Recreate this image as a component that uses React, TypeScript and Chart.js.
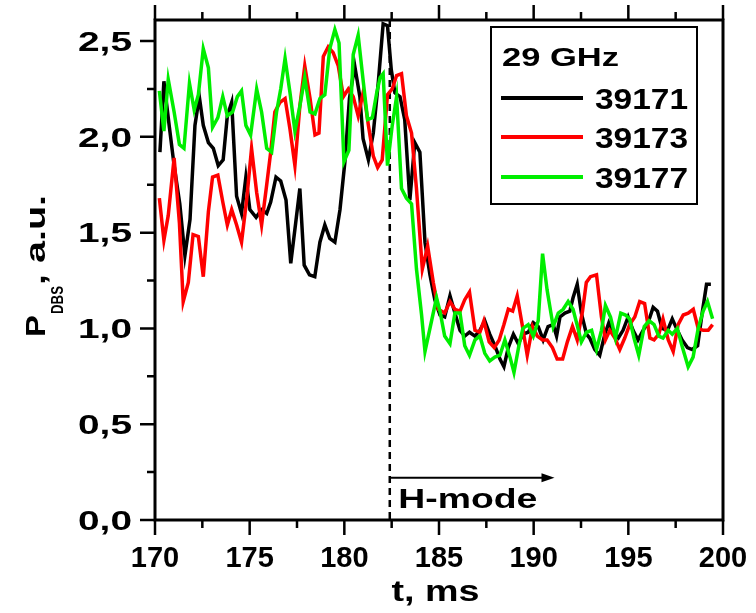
import React, { useEffect, useRef } from 'react';
import { Chart, registerables } from 'chart.js';

Chart.register(...registerables);

const FONT = '"Liberation Sans", Arial, Helvetica, sans-serif';

// ---- axis / annotation values ----
const xMin = 170;
const xMax = 200;
const xStep = 5;
const yMin = 0;
const yMax = 2.61;
const yTickValues = [0, 0.5, 1.0, 1.5, 2.0, 2.5];
const yTickLabels = ['0,0', '0,5', '1,0', '1,5', '2,0', '2,5'];
const xTitle = 't, ms';
const yTitleMain = 'P';
const yTitleSub = 'DBS';
const yTitleRest = ', a.u.';
const legendTitle = '29 GHz';
const lhTransitionTime = 182.4;
const hModeArrowEnd = 191.1;
const hModeArrowLevel = 0.22;
const hModeText = 'H-mode';

// ---- series 39171 (black) ----
const t39171 = [170.26, 170.47, 170.76, 171.01, 171.31, 171.58, 171.85, 172.11, 172.34, 172.55, 172.82, 173.08, 173.34, 173.6, 173.82, 174.05, 174.31, 174.57, 174.8, 175.01, 175.34, 175.63, 175.9, 176.11, 176.39, 176.64, 176.92, 177.17, 177.43, 177.65, 177.88, 178.16, 178.44, 178.71, 178.97, 179.23, 179.5, 179.77, 180.03, 180.27, 180.55, 180.82, 180.99, 181.27, 181.53, 181.79, 182.05, 182.28, 182.48, 182.67, 182.94, 183.19, 183.46, 183.72, 183.99, 184.26, 184.52, 184.78, 185.05, 185.3, 185.58, 185.84, 186.11, 186.36, 186.61, 186.9, 187.16, 187.42, 187.68, 187.95, 188.22, 188.43, 188.66, 188.93, 189.19, 189.43, 189.71, 189.98, 190.24, 190.5, 190.76, 191.03, 191.21, 191.39, 191.65, 191.91, 192.08, 192.3, 192.52, 192.79, 192.96, 193.23, 193.49, 193.76, 193.97, 194.24, 194.47, 194.72, 194.99, 195.25, 195.51, 195.78, 196.04, 196.31, 196.54, 196.78, 197.07, 197.32, 197.59, 197.84, 198.12, 198.37, 198.66, 198.9, 199.13, 199.36];
const p39171 = [1.92, 2.29, 2.05, 1.85, 1.65, 1.38, 1.57, 2.06, 2.21, 2.06, 1.97, 1.94, 1.85, 1.88, 2.11, 2.18, 1.69, 1.6, 1.79, 1.62, 1.58, 1.62, 1.6, 1.66, 1.79, 1.77, 1.67, 1.34, 1.55, 1.73, 1.33, 1.28, 1.27, 1.45, 1.54, 1.47, 1.45, 1.62, 1.87, 2.2, 2.37, 2.21, 1.99, 1.88, 2.02, 2.28, 2.59, 2.58, 2.35, 2.23, 2.21, 2.09, 1.67, 1.97, 1.92, 1.45, 1.28, 1.15, 1.07, 1.06, 1.17, 1.08, 0.99, 0.96, 0.98, 0.96, 0.99, 1.04, 0.97, 0.91, 0.84, 0.8, 0.9, 0.97, 0.92, 0.97, 0.98, 1.03, 1.01, 0.94, 1.01, 1.02, 0.96, 1.06, 1.08, 1.09, 1.16, 1.23, 1.08, 0.97, 0.95, 0.89, 0.86, 0.97, 1.03, 0.97, 0.95, 0.99, 1.06, 0.99, 0.94, 0.99, 1.03, 1.11, 1.09, 1.0, 0.99, 1.05, 0.99, 0.94, 0.9, 0.89, 0.91, 1.08, 1.23, 1.23];

// ---- series 39173 (red) ----
const t39173 = [170.23, 170.47, 170.7, 171.01, 171.29, 171.49, 171.76, 172.01, 172.29, 172.55, 172.82, 173.04, 173.32, 173.58, 173.82, 174.05, 174.31, 174.57, 174.84, 175.1, 175.37, 175.63, 175.9, 176.11, 176.33, 176.6, 176.87, 177.13, 177.39, 177.65, 177.91, 178.19, 178.45, 178.66, 178.89, 179.15, 179.41, 179.68, 179.95, 180.21, 180.47, 180.73, 181.01, 181.27, 181.53, 181.76, 182.0, 182.28, 182.53, 182.76, 183.02, 183.28, 183.55, 183.81, 184.12, 184.4, 184.7, 184.96, 185.3, 185.58, 185.84, 186.11, 186.36, 186.61, 186.9, 187.16, 187.37, 187.65, 187.92, 188.18, 188.43, 188.66, 188.89, 189.13, 189.41, 189.66, 189.94, 190.19, 190.47, 190.71, 190.99, 191.24, 191.53, 191.78, 192.05, 192.3, 192.58, 192.78, 193.0, 193.32, 193.58, 193.79, 194.02, 194.29, 194.55, 194.81, 195.07, 195.34, 195.6, 195.86, 196.14, 196.36, 196.61, 196.83, 197.11, 197.37, 197.63, 197.9, 198.16, 198.43, 198.69, 198.95, 199.22, 199.45];
const p39173 = [1.68, 1.46, 1.59, 1.89, 1.55, 1.14, 1.24, 1.49, 1.48, 1.27, 1.61, 1.79, 1.8, 1.66, 1.54, 1.62, 1.54, 1.45, 1.67, 1.94, 1.71, 1.54, 1.75, 1.92, 2.13, 2.18, 2.2, 2.04, 1.85, 2.16, 2.37, 2.2, 2.01, 2.02, 2.42, 2.47, 2.44, 2.37, 2.21, 2.25, 2.21, 2.11, 2.24, 2.06, 1.9, 1.84, 1.88, 2.22, 2.25, 2.32, 2.33, 2.11, 2.02, 1.73, 1.31, 1.43, 1.24, 1.1, 1.08, 1.14, 1.1, 1.09, 1.15, 1.19, 0.99, 0.98, 1.04, 0.93, 0.9, 0.94, 1.02, 1.1, 1.09, 1.17, 1.01, 0.86, 1.01, 0.96, 0.94, 0.94, 0.9, 0.84, 0.84, 0.93, 1.01, 0.94, 1.09, 1.24, 1.27, 1.28, 1.06, 0.94, 0.99, 0.95, 0.89, 0.95, 1.02, 1.06, 1.14, 1.13, 0.95, 0.94, 0.97, 1.05, 0.94, 0.88, 1.02, 1.07, 1.08, 1.1, 1.0, 0.99, 0.99, 1.02];

// ---- series 39177 (green) ----
const t39177 = [170.23, 170.47, 170.7, 171.01, 171.29, 171.53, 171.82, 172.07, 172.29, 172.55, 172.82, 173.04, 173.32, 173.58, 173.82, 174.1, 174.35, 174.57, 174.8, 175.05, 175.37, 175.63, 175.9, 176.16, 176.42, 176.64, 176.87, 177.13, 177.39, 177.65, 177.91, 178.19, 178.45, 178.71, 178.97, 179.23, 179.5, 179.72, 179.98, 180.24, 180.47, 180.73, 181.01, 181.23, 181.48, 181.71, 181.89, 182.05, 182.28, 182.53, 182.76, 183.02, 183.28, 183.55, 183.81, 184.08, 184.26, 184.87, 185.05, 185.3, 185.58, 185.84, 186.11, 186.36, 186.61, 186.9, 187.16, 187.42, 187.68, 187.95, 188.22, 188.48, 188.75, 188.96, 189.22, 189.43, 189.71, 189.98, 190.24, 190.47, 190.71, 191.03, 191.3, 191.56, 191.82, 192.08, 192.29, 192.52, 192.79, 193.06, 193.32, 193.58, 193.79, 194.06, 194.32, 194.6, 194.85, 195.07, 195.3, 195.55, 195.84, 196.1, 196.36, 196.61, 196.83, 197.11, 197.32, 197.59, 197.86, 198.16, 198.42, 198.69, 198.95, 199.18, 199.45];
const p39177 = [2.24, 2.03, 2.3, 2.13, 1.96, 1.94, 2.28, 2.14, 2.22, 2.46, 2.36, 2.05, 2.1, 2.21, 2.11, 2.13, 2.21, 2.24, 2.06, 2.01, 2.25, 2.13, 1.94, 1.92, 2.13, 2.25, 2.41, 2.23, 2.03, 2.16, 2.31, 2.13, 2.12, 2.2, 2.22, 2.46, 2.56, 2.49, 1.87, 1.93, 2.43, 2.53, 2.28, 2.09, 2.1, 2.23, 2.31, 2.33, 1.85, 2.06, 2.21, 1.73, 1.68, 1.65, 1.31, 1.07, 0.88, 1.16, 1.09, 0.96, 0.92, 1.08, 1.08, 0.91, 0.86, 0.94, 0.96, 0.87, 0.83, 0.85, 0.86, 0.94, 0.85, 0.77, 0.91, 1.0, 1.02, 0.96, 1.04, 1.39, 1.2, 1.01, 1.08, 1.1, 1.14, 1.1, 1.02, 0.93, 0.98, 0.99, 0.89, 0.99, 1.12, 1.06, 0.95, 1.08, 1.07, 1.05, 0.95, 0.86, 1.01, 1.04, 1.02, 0.96, 0.95, 0.99, 0.97, 1.0, 0.9, 0.8, 0.85, 1.0, 1.09, 1.14, 1.05];

const seriesLabels = ['39171', '39173', '39177'];
const seriesColors = ['#000000', '#ff0000', '#00ee00'];

function pts(t: number[], v: number[]) {
  return t.map((x, i) => ({ x, y: v[i] }));
}

function drawText(
  ctx: CanvasRenderingContext2D,
  text: string,
  x: number,
  y: number,
  size: number,
  targetWidth: number | null,
  align: 'left' | 'center' | 'right'
) {
  ctx.save();
  ctx.font = `bold ${size}px ${FONT}`;
  ctx.textBaseline = 'alphabetic';
  ctx.textAlign = 'left';
  const w = ctx.measureText(text).width;
  const sx = targetWidth ? targetWidth / w : 1;
  const W = w * sx;
  const x0 = align === 'left' ? x : align === 'center' ? x - W / 2 : x - W;
  ctx.translate(x0, y);
  ctx.scale(sx, 1);
  ctx.fillStyle = '#000';
  ctx.fillText(text, 0, 0);
  ctx.restore();
  return W;
}

const decorPlugin = {
  id: 'decor',
  beforeDatasetsDraw(chart: any) {
    const { ctx, chartArea: a, scales } = chart;
    const px = scales.x.getPixelForValue(lhTransitionTime);
    ctx.save();
    ctx.strokeStyle = '#000';
    ctx.lineWidth = 2.5;
    ctx.setLineDash([7, 5]);
    ctx.beginPath();
    ctx.moveTo(px, a.top);
    ctx.lineTo(px, a.bottom);
    ctx.stroke();
    ctx.restore();
  },
  afterDraw(chart: any) {
    const { ctx, chartArea: a, scales } = chart;
    const xs = scales.x;
    const ys = scales.y;
    ctx.save();
    ctx.strokeStyle = '#000';
    ctx.lineWidth = 3;
    ctx.setLineDash([]);
    // frame
    ctx.strokeRect(a.left, a.top, a.right - a.left, a.bottom - a.top);
    // x ticks (bottom outward, top outward)
    ctx.lineWidth = 2.5;
    const xMajors: number[] = xs.ticks.map((tk: any) => tk.value);
    ctx.beginPath();
    xMajors.forEach((v: number, i: number) => {
      const p = xs.getPixelForValue(v);
      ctx.moveTo(p, a.bottom);
      ctx.lineTo(p, a.bottom + 15);
      ctx.moveTo(p, a.top);
      ctx.lineTo(p, a.top - 15);
      if (i < xMajors.length - 1) {
        const m = xs.getPixelForValue((v + xMajors[i + 1]) / 2);
        ctx.moveTo(m, a.bottom);
        ctx.lineTo(m, a.bottom + 8);
        ctx.moveTo(m, a.top);
        ctx.lineTo(m, a.top - 8);
      }
    });
    // y ticks
    yTickValues.forEach((v, i) => {
      const p = ys.getPixelForValue(v);
      ctx.moveTo(a.left, p);
      ctx.lineTo(a.left - 15, p);
      if (i < yTickValues.length - 1) {
        const m = ys.getPixelForValue((v + yTickValues[i + 1]) / 2);
        ctx.moveTo(a.left, m);
        ctx.lineTo(a.left - 8, m);
      }
    });
    ctx.stroke();
    ctx.restore();

    // y tick labels
    yTickValues.forEach((v, i) => {
      const p = ys.getPixelForValue(v);
      drawText(ctx, yTickLabels[i], a.left - 23, p + 9.7, 27, 54, 'right');
    });

    // x title
    drawText(ctx, xTitle, 435.5, 601, 29, 88, 'center');

    // y title (rotated)
    ctx.save();
    ctx.translate(45, 337);
    ctx.rotate(-Math.PI / 2);
    const wP = drawText(ctx, yTitleMain, 0, 0, 28, 22, 'left');
    const wSub = drawText(ctx, yTitleSub, wP + 1, 18, 16, 28, 'left');
    drawText(ctx, yTitleRest, wP + 1 + wSub + 1, 0, 28, 90, 'left');
    ctx.restore();

    // H-mode arrow
    const ax0 = xs.getPixelForValue(lhTransitionTime);
    const ax1 = xs.getPixelForValue(hModeArrowEnd);
    const ay = ys.getPixelForValue(hModeArrowLevel);
    ctx.save();
    ctx.strokeStyle = '#000';
    ctx.fillStyle = '#000';
    ctx.lineWidth = 2;
    ctx.beginPath();
    ctx.moveTo(ax0, ay);
    ctx.lineTo(ax1 - 10, ay);
    ctx.stroke();
    ctx.beginPath();
    ctx.moveTo(ax1, ay);
    ctx.lineTo(ax1 - 13, ay - 4.5);
    ctx.lineTo(ax1 - 13, ay + 4.5);
    ctx.closePath();
    ctx.fill();
    ctx.restore();
    drawText(ctx, hModeText, ax0 + 8.5, 508, 28, 139, 'left');

    // legend
    ctx.save();
    ctx.strokeStyle = '#000';
    ctx.lineWidth = 2;
    ctx.strokeRect(491, 27, 206, 177);
    ctx.restore();
    drawText(ctx, legendTitle, 502, 66, 25, 117, 'left');
    const rows = [98, 137, 177];
    chart.data.datasets.forEach((ds: any, i: number) => {
      const yy = rows[i];
      ctx.save();
      ctx.strokeStyle = ds.borderColor;
      ctx.lineWidth = 4;
      ctx.beginPath();
      ctx.moveTo(501, yy);
      ctx.lineTo(583, yy);
      ctx.stroke();
      ctx.restore();
      drawText(ctx, ds.label, 595, yy + 11, 30, 93, 'left');
    });
  },
};

export default function App() {
  const ref = useRef<HTMLCanvasElement | null>(null);
  useEffect(() => {
    document.body.style.margin = '0';
    const canvas = ref.current;
    if (!canvas) return;
    const chart = new Chart(canvas, {
      type: 'line',
      data: {
        datasets: [
          { label: seriesLabels[0], data: pts(t39171, p39171), borderColor: seriesColors[0], order: 3 },
          { label: seriesLabels[1], data: pts(t39173, p39173), borderColor: seriesColors[1], order: 2 },
          { label: seriesLabels[2], data: pts(t39177, p39177), borderColor: seriesColors[2], order: 1 },
        ].map((d) => ({
          ...d,
          borderWidth: 3.5,
          pointRadius: 0,
          tension: 0,
          fill: false,
          backgroundColor: d.borderColor,
        })),
      },
      options: {
        animation: false,
        responsive: false,
        devicePixelRatio: 1,
        layout: { padding: { left: 0, right: 33, top: 20, bottom: 0 } },
        plugins: { legend: { display: false }, tooltip: { enabled: false }, title: { display: false } },
        scales: {
          x: {
            type: 'linear',
            min: xMin,
            max: xMax,
            afterFit: (s: any) => {
              s.height = 93;
              s.paddingLeft = 0;
              s.paddingRight = 0;
            },
            grid: { display: false, drawTicks: false },
            border: { display: false },
            ticks: {
              stepSize: xStep,
              autoSkip: false,
              maxRotation: 0,
              padding: 22,
              color: '#000',
              font: { family: FONT, size: 29, weight: 'bold' },
            },
          },
          y: {
            type: 'linear',
            min: yMin,
            max: yMax,
            afterFit: (s: any) => {
              s.width = 155;
              s.paddingTop = 0;
              s.paddingBottom = 0;
            },
            grid: { display: false, drawTicks: false },
            border: { display: false },
            ticks: { display: false, stepSize: 0.5 },
          },
        },
      } as any,
      plugins: [decorPlugin],
    });
    return () => chart.destroy();
  }, []);
  return (
    <div style={{ width: 756, height: 613 }}>
      <canvas ref={ref} width={756} height={613} style={{ display: 'block', width: 756, height: 613 }} />
    </div>
  );
}
